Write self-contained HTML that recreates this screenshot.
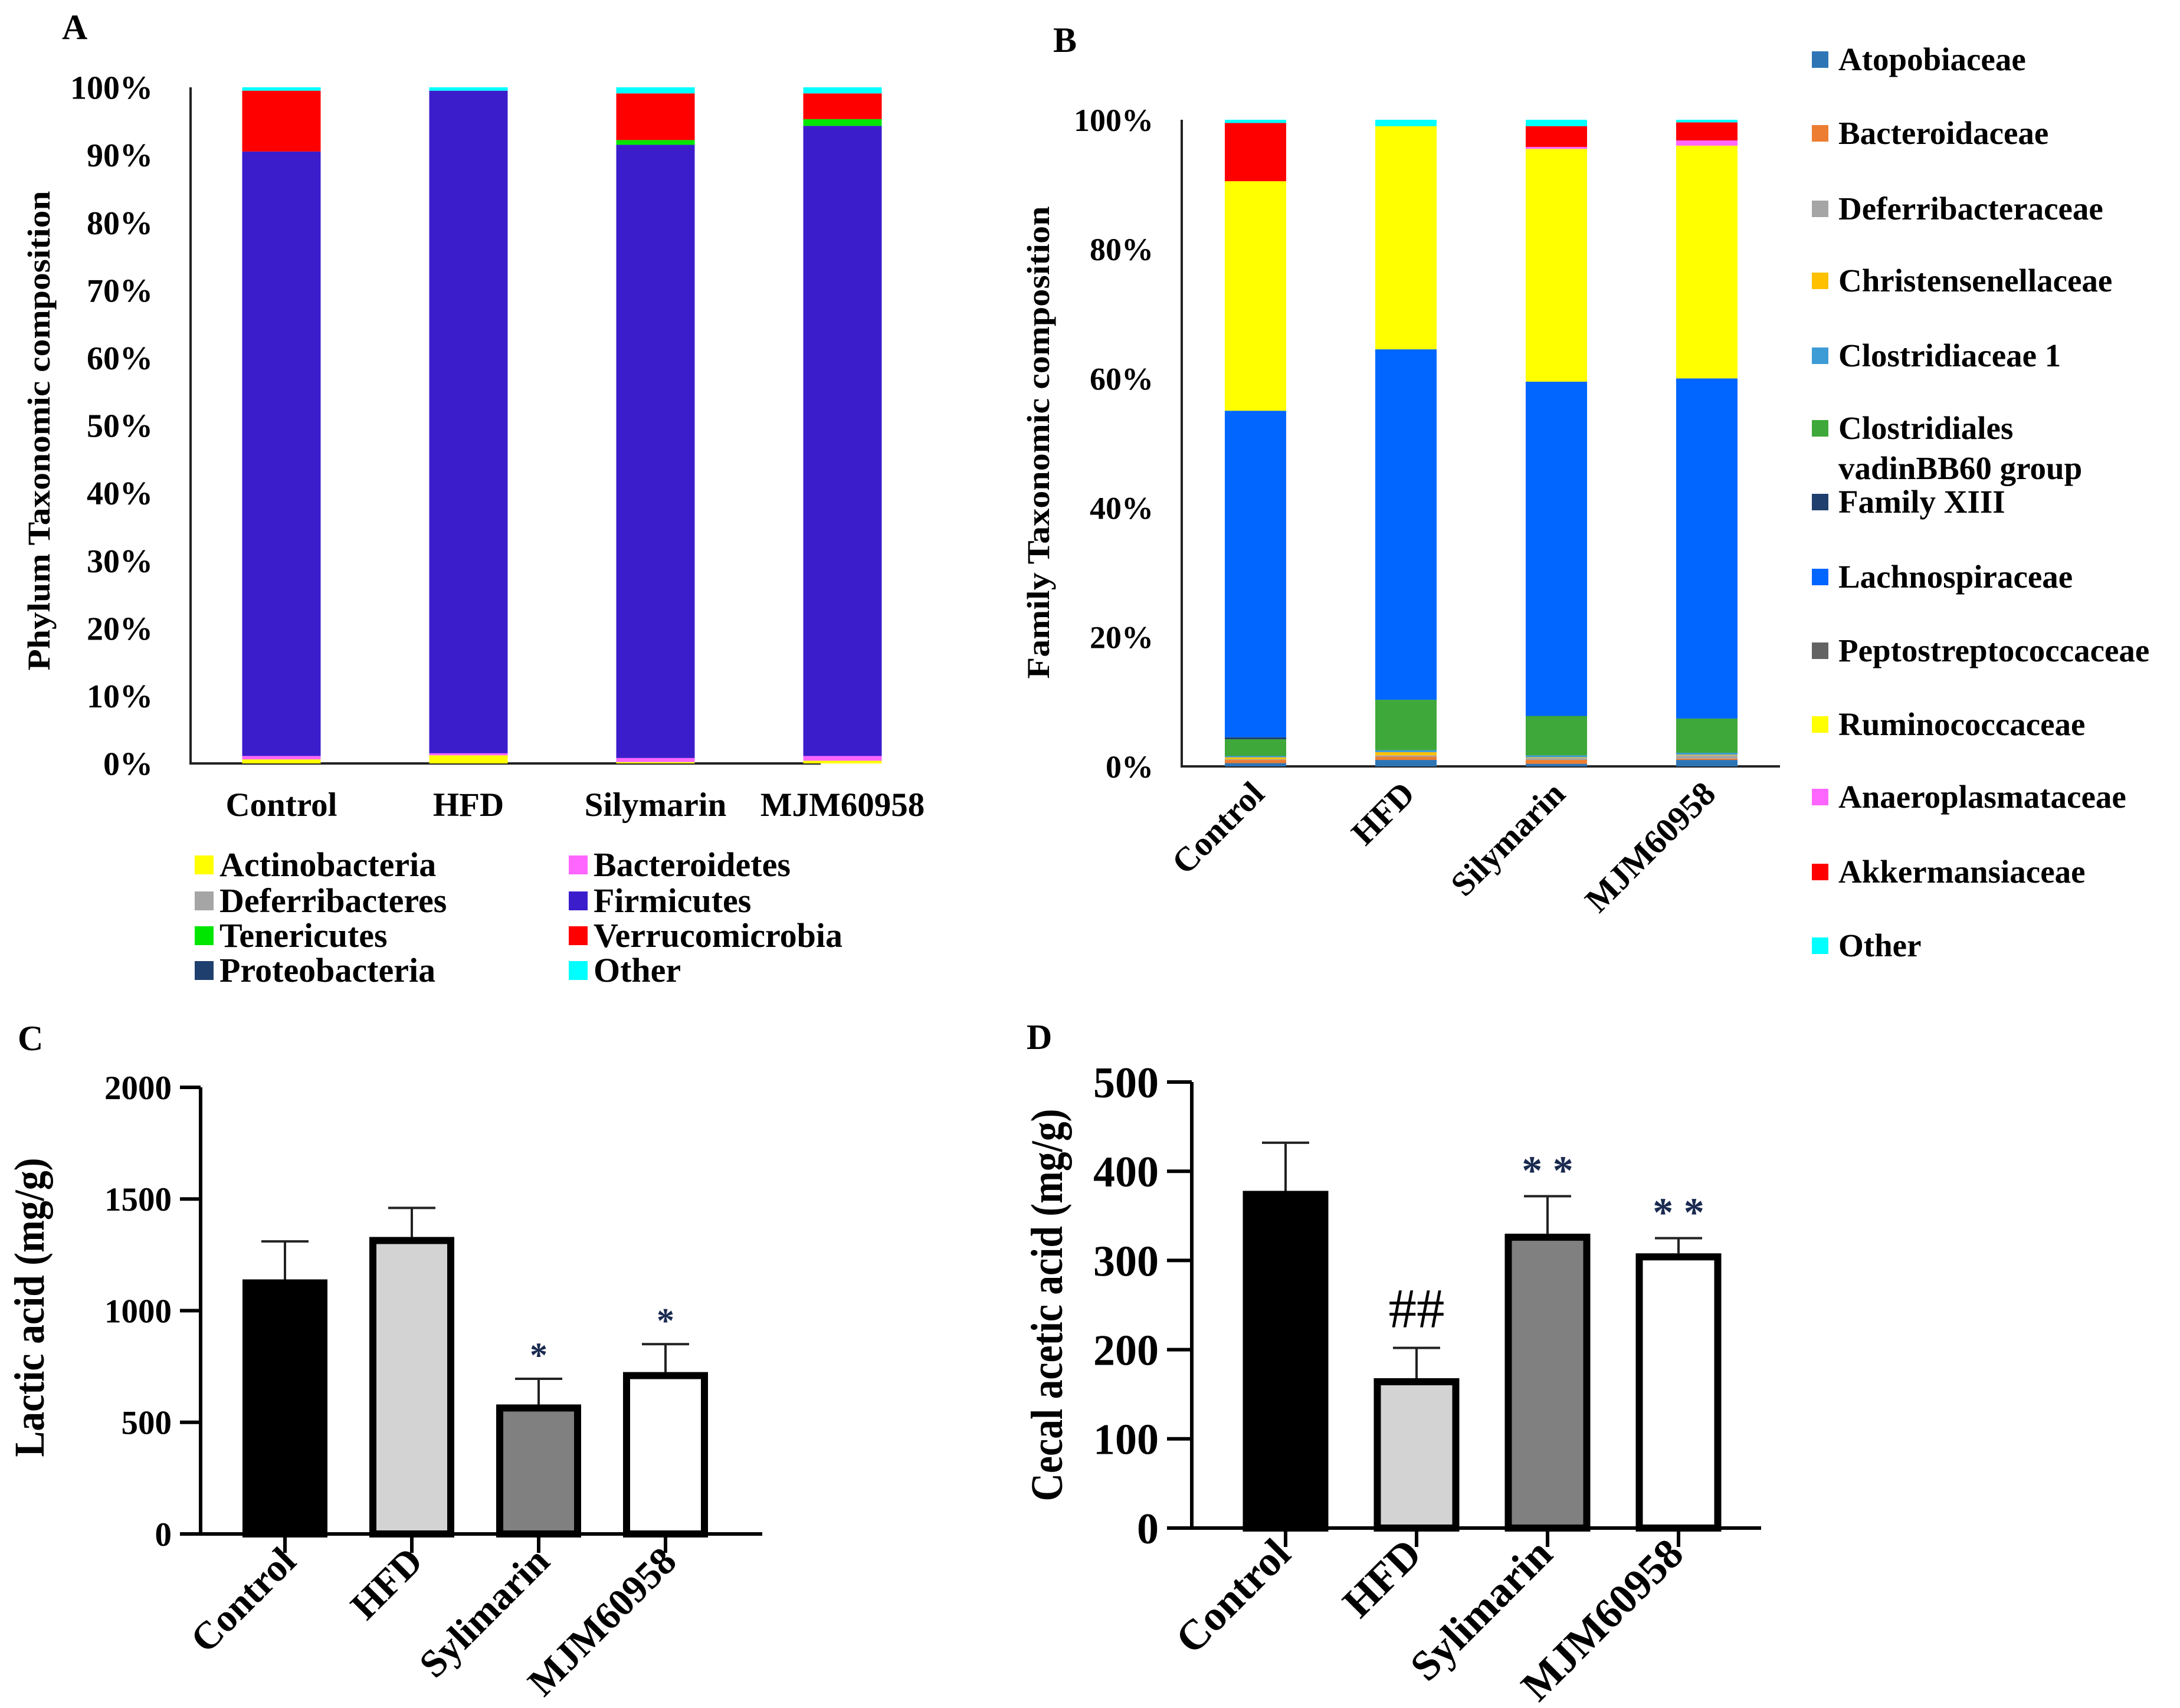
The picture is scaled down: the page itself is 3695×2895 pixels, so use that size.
<!DOCTYPE html>
<html><head><meta charset="utf-8"><style>
html,body{margin:0;padding:0;background:#fff}
svg{display:block;font-family:"Liberation Serif",serif;font-weight:bold}
</style></head><body>
<svg id="fig" width="3695" height="2895" viewBox="0 0 3695 2895" xmlns="http://www.w3.org/2000/svg">
<text x="105" y="66" font-size="60">A</text>
<text x="1785" y="88" font-size="60">B</text>
<text x="30" y="1780" font-size="60">C</text>
<text x="1740" y="1778" font-size="60">D</text>
<g id="gA"></g>
<g id="gB"></g>
<g id="gC"></g>
<g id="gD"></g>
</svg>
<script>
const NS="http://www.w3.org/2000/svg";
// ---------- Data ----------
const groupsAB=["Control","HFD","Silymarin","MJM60958"];
const phylaNames=["Actinobacteria","Bacteroidetes","Deferribacteres","Firmicutes","Tenericutes","Verrucomicrobia","Proteobacteria","Other"];
const phylaColors=["#ffff00","#ff66ff","#a5a5a5","#3c1dcc","#00e600","#ff0000","#1f3f6e","#00ffff"];
const phylaControl=[0.6,0.5,0,89.4,0,9.0,0,0.5];
const phylaHFD=[1.2,0.3,0,98.0,0,0,0,0.5];
const phylaSilymarin=[0.2,0.6,0,90.7,0.7,6.9,0,0.9];
const phylaMJM=[0.4,0.7,0,93.2,1.0,3.8,0,0.9];
const phylaTicks=["0%","10%","20%","30%","40%","50%","60%","70%","80%","90%","100%"];

const famNames=["Atopobiaceae","Bacteroidaceae","Deferribacteraceae","Christensenellaceae","Clostridiaceae 1","Clostridiales vadinBB60 group","Family XIII","Lachnospiraceae","Peptostreptococcaceae","Ruminococcaceae","Anaeroplasmataceae","Akkermansiaceae","Other"];
const famColors=["#2e75b6","#ed7d31","#a5a5a5","#ffc000","#3d9bd6","#3ea83a","#1f3f6e","#0066ff","#636363","#ffff00","#ff66ff","#ff0000","#00ffff"];
const famControl=[0.5,0.5,0.1,0.3,0.2,2.6,0.3,50.5,0,35.5,0,9.0,0.5];
const famHFD=[1.0,0.5,0.2,0.5,0.3,7.8,0,54.2,0,34.5,0,0,1.0];
const famSilymarin=[0.4,0.6,0.3,0.1,0.3,6.1,0,51.7,0,36.0,0.3,3.2,1.0];
const famMJM=[1.0,0.2,0.5,0.1,0.3,5.3,0,52.6,0,36.0,0.8,2.8,0.4];
const famTicks=["0%","20%","40%","60%","80%","100%"];

const groupsCD=["Control","HFD","Sylimarin","MJM60958"];
const barFills=["#000000","#d3d3d3","#808080","#ffffff"];
const lacticMean=[1140,1330,580,725];
const lacticErr=[170,130,115,125];
const lacticSig=["","","*","*"];
const lacticTicks=[0,500,1000,1500,2000];
const aceticMean=[378,168,330,308];
const aceticErr=[54,34,42,17];
const aceticSig=["","##","* *","* *"];
const aceticTicks=[0,100,200,300,400,500];

function el(tag,attrs,parent,text){const e=document.createElementNS(NS,tag);for(const k in attrs)e.setAttribute(k,attrs[k]);if(text!==undefined)e.textContent=text;parent.appendChild(e);return e;}

// ---------- Stacked chart ----------
function stacked(g,cfg){
  const y=v=>cfg.y0-(v/100)*(cfg.y0-cfg.y100);
  cfg.ticks.forEach((t,i)=>{const v=parseFloat(t);
    const tx=el("text",{x:cfg.axisX-cfg.tickGap,y:y(v)+cfg.fs*0.35,"font-size":cfg.fs,"text-anchor":"end"},g,t);
    
    
  });
  const ax=el("path",{d:`M${cfg.axisX} ${cfg.y100}V${cfg.y0}H${cfg.axisEnd}`,stroke:"#222",fill:"none","stroke-width":4},g);
  
  
  cfg.series.forEach((vals,bi)=>{
    const cx=cfg.x0+bi*cfg.step;let acc=0;
    vals.forEach((v,si)=>{ if(v<=0)return;
      const r=el("rect",{x:cx-cfg.bw/2,y:y(acc+v),width:cfg.bw,height:y(acc)-y(acc+v),fill:cfg.colors[si]},g);
      
      
      acc+=v;});
    let lab;
    if(cfg.rot){
      const lx=cx+cfg.lo[0],ly=cfg.y0+cfg.lo[1];
      lab=el("text",{x:lx,y:ly,"font-size":cfg.cfs,"text-anchor":"end",transform:`rotate(-45 ${lx} ${ly})`},g,cfg.groups[bi]);
    } else {
      lab=el("text",{x:cx,y:cfg.labY,"font-size":cfg.cfs,"text-anchor":"middle"},g,cfg.groups[bi]);
    }
    
    
  });
  const tt=el("text",{x:0,y:0,"font-size":cfg.tfs,"text-anchor":"middle",transform:`translate(${cfg.title[0]} ${cfg.title[1]}) rotate(-90)`,textLength:cfg.title[2],lengthAdjust:"spacingAndGlyphs"},g,cfg.title[3]);
  
  
}

stacked(document.getElementById("gA"),{y0:1294,y100:148,axisX:323,axisEnd:1391,x0:477,step:317,bw:133,
  series:[phylaControl,phylaHFD,phylaSilymarin,phylaMJM],colors:phylaColors,ticks:phylaTicks,groups:groupsAB,
  fs:56,tickGap:64,cfs:57,labY:1383,tfs:54,title:[84,730,813,"Phylum Taxonomic composition"]});
stacked(document.getElementById("gB"),{y0:1299,y100:203,axisX:2003,axisEnd:3017,x0:2128,step:255,bw:104,
  series:[famControl,famHFD,famSilymarin,famMJM],colors:famColors,ticks:famTicks,groups:groupsAB,
  fs:54,tickGap:48,cfs:58,rot:true,lo:[18,50],tfs:54,title:[1778,750,801,"Family Taxonomic composition"]});

// legends
(function(){
  const g=document.getElementById("gA");
  const rowsA=[1466,1527,1586,1645];
  phylaNames.forEach((n,i)=>{const col=i%2,row=Math.floor(i/2);
    const sx=col?964:330,ty=rowsA[row];
    const s=el("rect",{x:sx,y:ty-16,width:32,height:32,fill:phylaColors[i]},g);
    
    
    const t=el("text",{x:sx+42,y:ty+19,"font-size":58},g,n);
    
    
  });
  const gb=document.getElementById("gB");
  const rows=[101,226,354,476,603,726,851,978,1103,1228,1351,1478,1603];
  famNames.forEach((n,i)=>{const ty=rows[i];
    const s=el("rect",{x:3071,y:ty-14,width:28,height:28,fill:famColors[i]},gb);
    
    
    if(n==="Clostridiales vadinBB60 group"){
      const t=el("text",{x:3116,y:ty+18,"font-size":55},gb,"Clostridiales");
      
      
      const t2=el("text",{x:3116,y:ty+86,"font-size":55},gb,"vadinBB60 group");
      
      
    } else {
      const t=el("text",{x:3116,y:ty+18,"font-size":55},gb,n);
      
      
    }
  });
})();

// ---------- Bar charts with error ----------
function barChart(g,cfg){
  const max=cfg.ticks[cfg.ticks.length-1];
  const y=v=>cfg.y0-(v/max)*(cfg.y0-cfg.yTop);
  cfg.ticks.forEach(t=>{
    const tk=el("line",{x1:cfg.axisX-cfg.tickLen,x2:cfg.axisX,y1:y(t),y2:y(t),stroke:"#000","stroke-width":6},g);
    
    
    const tx=el("text",{x:cfg.axisX-cfg.tickLen-14,y:y(t)+cfg.fs*0.35,"font-size":cfg.fs,"text-anchor":"end"},g,String(t));
    
    
  });
  cfg.mean.forEach((m,i)=>{
    const cx=cfg.x0+i*cfg.step;
    const top=y(m+cfg.err[i]);
    const w=el("line",{x1:cx,x2:cx,y1:top,y2:y(m),stroke:"#222","stroke-width":4},g);
    
    
    const c=el("line",{x1:cx-40,x2:cx+40,y1:top,y2:top,stroke:"#222","stroke-width":4},g);
    
    
    const r=el("rect",{x:cx-cfg.bw/2+6,y:y(m)+6,width:cfg.bw-12,height:cfg.y0-y(m)-6,fill:cfg.fills[i],stroke:"#000","stroke-width":12},g);
    
    
    if(cfg.sig[i]){
      const isHash=cfg.sig[i]==="##";
      const s=el("text",{x:cx,y:top-(isHash?35:20),"font-size":isHash?cfg.hashFs:cfg.sigFs,"text-anchor":"middle","font-weight":isHash?"normal":"bold",fill:isHash?"#000":"#1a2a50"},g,cfg.sig[i]);
      
      
    }
    const tk=el("line",{x1:cx,x2:cx,y1:cfg.y0,y2:cfg.y0+32,stroke:"#000","stroke-width":6},g);
    
    
    const lx=cx+cfg.lo[0],ly=cfg.y0+cfg.lo[1];
    const lab=el("text",{x:lx,y:ly,"font-size":cfg.cfs,"text-anchor":"end",transform:`rotate(-45 ${lx} ${ly})`},g,cfg.groups[i]);
    
    
  });
  const ax=el("path",{d:`M${cfg.axisX} ${cfg.yTop}V${cfg.y0}H${cfg.axisEnd}`,stroke:"#000",fill:"none","stroke-width":6},g);
  
  
  const tt=el("text",{x:0,y:0,"font-size":cfg.tfs,"text-anchor":"middle",transform:`translate(${cfg.title[0]} ${cfg.title[1]}) rotate(-90)`,textLength:cfg.title[2],lengthAdjust:"spacingAndGlyphs"},g,cfg.title[3]);
  
  
}
barChart(document.getElementById("gC"),{y0:2600,yTop:1843,axisX:340,axisEnd:1292,x0:483,step:215,bw:144,tickLen:35,
  mean:lacticMean,err:lacticErr,sig:lacticSig,fills:barFills,groups:groupsCD,ticks:lacticTicks,
  fs:57,cfs:66,sigFs:60,hashFs:80,lo:[22,50],tfs:72,title:[74,2216,507,"Lactic acid (mg/g)"]});
barChart(document.getElementById("gD"),{y0:2590,yTop:1834,axisX:2020,axisEnd:2985,x0:2179,step:222,bw:145,tickLen:42,
  mean:aceticMean,err:aceticErr,sig:aceticSig,fills:barFills,groups:groupsCD,ticks:aceticTicks,
  fs:74,cfs:72,sigFs:70,hashFs:95,lo:[12,48],tfs:76,title:[1800,2212,665,"Cecal acetic acid (mg/g)"]});
</script>
</body></html>
